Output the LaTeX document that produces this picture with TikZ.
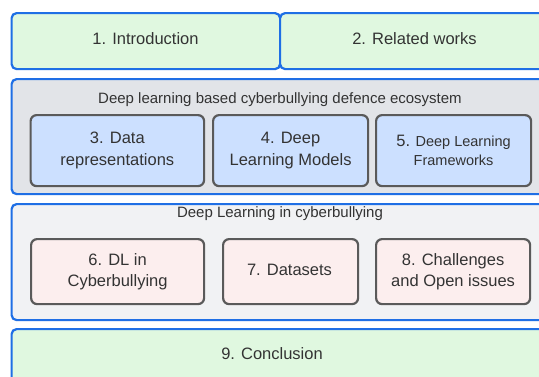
\documentclass[tikz,border=0pt]{standalone}
\usepackage{fontspec}
\setmainfont{Liberation Sans}
\definecolor{bluebd}{HTML}{1F6FE5}
\definecolor{graybd}{HTML}{5A5A5A}
\definecolor{greenfill}{HTML}{E0F8E0}
\definecolor{bluefill}{HTML}{CCE0FF}
\definecolor{pinkfill}{HTML}{FCEEEE}
\definecolor{grpA}{HTML}{E2E4E8}
\definecolor{grpB}{HTML}{F1F2F4}
\definecolor{txt}{HTML}{333333}
\tikzset{
  outerbox/.style={draw=bluebd, line width=2.2pt, rounded corners=5pt, anchor=north west, inner sep=0pt, text=txt, font=\fontsize{16.5}{20}\selectfont},
  innerbox/.style={draw=graybd, line width=2.2pt, rounded corners=6pt, anchor=north west, inner sep=0pt, text=txt, align=center},
  grouptitle/.style={text=txt, font=\fontsize{15}{17}\selectfont, inner sep=0pt},
  plaintext/.style={text=txt, font=\fontsize{16.5}{20}\selectfont, inner sep=0pt},
}
\begin{document}
\begin{tikzpicture}[x=1pt,y=-1pt]
\useasboundingbox (0,0) rectangle (539,376);
\clip (0,0) rectangle (539,376);
\fill[white] (0,0) rectangle (539,376);
% top row
\node[outerbox, fill=greenfill, minimum width=268.5pt, minimum height=56pt] (intro) at (10.5,12) {};
\node[plaintext] (introtext) at (145.5,38.5) {1. Introduction};
\node[outerbox, fill=greenfill, minimum width=271pt, minimum height=56pt] (related) at (279,12) {};
\node[plaintext] (relatedtext) at (414.5,38.5) {2. Related works};
% group 1
\node[outerbox, fill=grpA, minimum width=539pt, minimum height=115pt] (grpone) at (10.5,78) {};
\node[grouptitle] (grponetitle) at (280,99.5) {Deep learning based cyberbullying defence ecosystem};
\node[innerbox, fill=bluefill, minimum width=173.5pt, minimum height=71pt, font=\fontsize{16.5}{21.5}\selectfont] (datarep) at (29.5,114) {3. Data\\representations};
\node[innerbox, fill=bluefill, minimum width=155pt, minimum height=71pt, font=\fontsize{16.5}{21.5}\selectfont] (dlmodels) at (212,114) {4. Deep\\Learning Models};
\node[innerbox, fill=bluefill, minimum width=155pt, minimum height=71pt, font=\fontsize{14.5}{18.5}\selectfont] (dlframe) at (375,114) {{\fontsize{16.5}{18.5}\selectfont 5.} Deep Learning\\Frameworks};
% group 2
\node[outerbox, fill=grpB, minimum width=539pt, minimum height=116pt] (grptwo) at (10.5,203) {};
\node[grouptitle] (grptwotitle) at (280,214) {Deep Learning in cyberbullying};
\node[innerbox, fill=pinkfill, minimum width=173pt, minimum height=65pt, font=\fontsize{16.5}{20.5}\selectfont] (dlcyber) at (30,238) {6. DL in\\Cyberbullying};
\node[innerbox, fill=pinkfill, minimum width=135pt, minimum height=65pt, font=\fontsize{16.5}{20.5}\selectfont] (datasets) at (222,238) {};
\node[plaintext] (datasetstext) at (289.5,269.5) {7. Datasets};
\node[innerbox, fill=pinkfill, minimum width=154pt, minimum height=65pt, font=\fontsize{16.5}{20.5}\selectfont] (challenges) at (375,238) {8. Challenges\\and Open issues};
% conclusion
\node[outerbox, fill=greenfill, minimum width=539pt, minimum height=60pt] (concl) at (10.5,328) {};
\node[plaintext] (concltext) at (272,354) {9. Conclusion};
\end{tikzpicture}
\end{document}
